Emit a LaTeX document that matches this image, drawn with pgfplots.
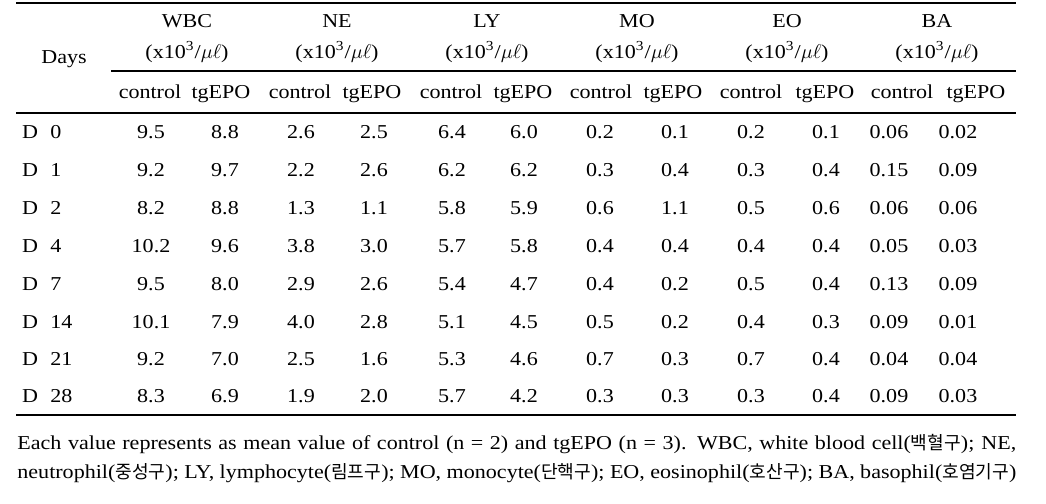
\documentclass[border=0pt]{standalone}
\usepackage{pgfplots}
\pgfplotsset{compat=1.18}
\usepackage{pgfplotstable}
\usepackage{fontspec}
\setmainfont{Liberation Serif}[FakeStretch=1.12]
\newfontfamily\kr{Noto Sans CJK KR}[Scale=0.92]

\pgfplotstableread{
y day wbcC wbcT neC neT lyC lyT moC moT eoC eoT baC baT
138 0 9.5 8.8 2.6 2.5 6.4 6.0 0.2 0.1 0.2 0.1 0.06 0.02
176 1 9.2 9.7 2.2 2.6 6.2 6.2 0.3 0.4 0.3 0.4 0.15 0.09
214 2 8.2 8.8 1.3 1.1 5.8 5.9 0.6 1.1 0.5 0.6 0.06 0.06
252 4 10.2 9.6 3.8 3.0 5.7 5.8 0.4 0.4 0.4 0.4 0.05 0.03
290 7 9.5 8.0 2.9 2.6 5.4 4.7 0.4 0.2 0.5 0.4 0.13 0.09
328 14 10.1 7.9 4.0 2.8 5.1 4.5 0.5 0.2 0.4 0.3 0.09 0.01
365 21 9.2 7.0 2.5 1.6 5.3 4.6 0.7 0.3 0.7 0.4 0.04 0.04
402 28 8.3 6.9 1.9 2.0 5.7 4.2 0.3 0.3 0.3 0.4 0.09 0.03
}\data

\newcommand{\unit}{(x10\textsuperscript{3}/$\mu\ell$)}

\begin{document}
\begin{tikzpicture}
\begin{axis}[
  hide axis, scale only axis, clip=false,
  x=0.5pt, y=0.5pt, y dir=reverse,
  xmin=0, xmax=1046, ymin=0, ymax=504,
  every node near coord/.append style={font=\fontsize{9.85}{12}\selectfont, inner sep=0pt, text=black},
  nodes near coords align={anchor=base},
  cell/.style={draw=none, mark=none, nodes near coords, point meta=explicit symbolic},
]
\path (axis cs:0,0) rectangle (axis cs:1046,504);

% rules
\draw[line width=1pt] (axis cs:16,3) -- (axis cs:1016,3);
\draw[line width=1pt] (axis cs:111,70.5) -- (axis cs:1016,70.5);
\draw[line width=1pt] (axis cs:16,112.5) -- (axis cs:1016,112.5);
\draw[line width=1.1pt] (axis cs:16,415) -- (axis cs:1016,415);

% headers
\begin{scope}[every node/.style={inner sep=0pt, anchor=base, font=\fontsize{9.85}{12}\selectfont}]
\node at (axis cs:64,63) {Days};
\node at (axis cs:187,27) {WBC};
\node at (axis cs:337,27) {NE};
\node at (axis cs:487,27) {LY};
\node at (axis cs:637,27) {MO};
\node at (axis cs:787,27) {EO};
\node at (axis cs:937,27) {BA};
\node at (axis cs:187,58) {\unit};
\node at (axis cs:337,58) {\unit};
\node at (axis cs:487,58) {\unit};
\node at (axis cs:637,58) {\unit};
\node at (axis cs:787,58) {\unit};
\node at (axis cs:937,58) {\unit};
\node at (axis cs:150,98) {control};
\node at (axis cs:300,98) {control};
\node at (axis cs:451,98) {control};
\node at (axis cs:601,98) {control};
\node at (axis cs:751,98) {control};
\node at (axis cs:902,98) {control};
\node at (axis cs:221,98) {tgEPO};
\node at (axis cs:372,98) {tgEPO};
\node at (axis cs:523,98) {tgEPO};
\node at (axis cs:673,98) {tgEPO};
\node at (axis cs:825,98) {tgEPO};
\node at (axis cs:976,98) {tgEPO};
\end{scope}

% day labels
\addplot[cell, nodes near coords={D}] table[x expr=30, y=y, meta=day] {\data};
\addplot[cell, nodes near coords align={anchor=base west}] table[x expr=50, y=y, meta=day] {\data};

% values
\addplot[cell] table[x expr=151, y=y, meta=wbcC] {\data};
\addplot[cell] table[x expr=225, y=y, meta=wbcT] {\data};
\addplot[cell] table[x expr=301, y=y, meta=neC] {\data};
\addplot[cell] table[x expr=374, y=y, meta=neT] {\data};
\addplot[cell] table[x expr=452, y=y, meta=lyC] {\data};
\addplot[cell] table[x expr=524, y=y, meta=lyT] {\data};
\addplot[cell] table[x expr=600, y=y, meta=moC] {\data};
\addplot[cell] table[x expr=675, y=y, meta=moT] {\data};
\addplot[cell] table[x expr=751, y=y, meta=eoC] {\data};
\addplot[cell] table[x expr=826, y=y, meta=eoT] {\data};
\addplot[cell] table[x expr=889, y=y, meta=baC] {\data};
\addplot[cell] table[x expr=958, y=y, meta=baT] {\data};

% footnote
\begin{scope}[every node/.style={inner sep=0pt, anchor=base west, font=\fontsize{9.85}{12}\selectfont}]
\node at (axis cs:17,449) {\makebox[499.5pt][s]{Each value represents as mean value of control (n = 2) and tgEPO (n = 3). WBC, white blood cell({\kr 백혈구}); NE,}};
\node at (axis cs:17,478) {\makebox[499.5pt][s]{neutrophil({\kr 중성구}); LY, lymphocyte({\kr 림프구}); MO, monocyte({\kr 단핵구}); EO, eosinophil({\kr 호산구}); BA, basophil({\kr 호염기구})}};
\end{scope}
\end{axis}
\end{tikzpicture}
\end{document}
